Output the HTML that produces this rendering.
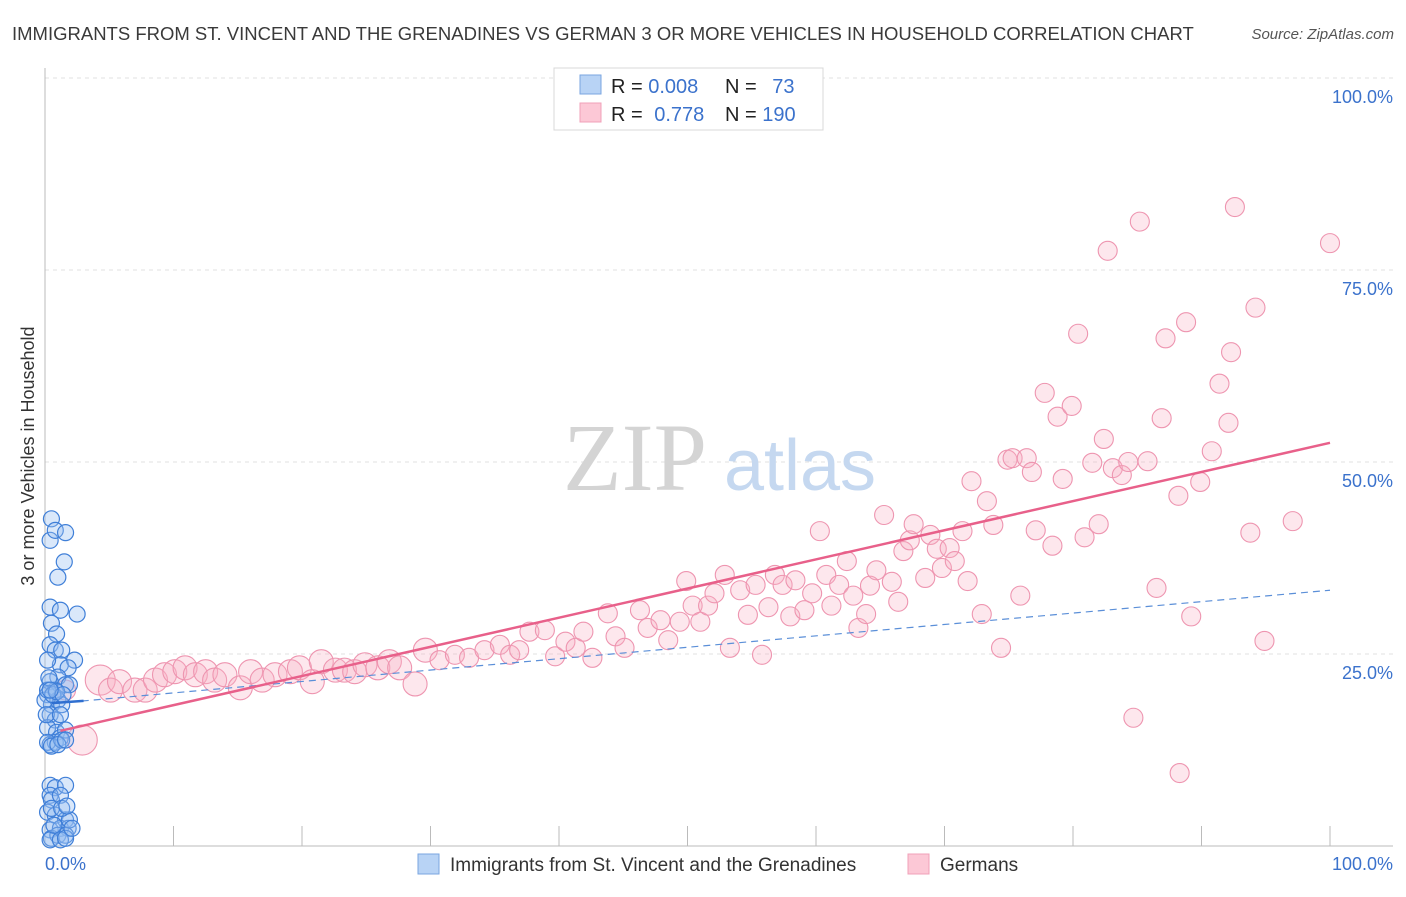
<!DOCTYPE html>
<html><head><meta charset="utf-8"><style>
body{margin:0;background:#fff;font-family:"Liberation Sans",sans-serif}
svg text{font-family:"Liberation Sans",sans-serif}
</style></head><body>
<svg width="1406" height="892" viewBox="0 0 1406 892">
<text x="12" y="40" font-size="18.5" fill="#3a3a3a">IMMIGRANTS FROM ST. VINCENT AND THE GRENADINES VS GERMAN 3 OR MORE VEHICLES IN HOUSEHOLD CORRELATION CHART</text>
<text x="1394" y="39" font-size="15" fill="#555" text-anchor="end" font-style="italic">Source: ZipAtlas.com</text>
<text transform="translate(34,456) rotate(-90)" font-size="18" fill="#333" text-anchor="middle">3 or more Vehicles in Household</text>
<g id="grid"></g>
<g>
<text x="635" y="490" font-size="96" fill="#d4d4d4" font-family="Liberation Serif" text-anchor="middle" style="font-family:'Liberation Serif',serif">ZIP</text>
<text x="800" y="490" font-size="72" fill="#c5d8f0" text-anchor="middle">atlas</text>
</g>
<g id="pts"></g>
<g id="lines"></g>
<g>
<rect x="554" y="68" width="269" height="62" fill="#fff" stroke="#d8d8d8"/>
<rect x="580" y="75" width="21" height="19" fill="#b8d3f5" stroke="#7aa6e0"/>
<rect x="580" y="103" width="21" height="19" fill="#fcc8d6" stroke="#f0a0b8"/>
<text x="611" y="93" font-size="20" fill="#222">R = <tspan fill="#3b72cc">0.008</tspan></text>
<text x="725" y="93" font-size="20" fill="#222">N = <tspan fill="#3b72cc" dx="10">73</tspan></text>
<text x="611" y="121" font-size="20" fill="#222">R = <tspan fill="#3b72cc" dx="6">0.778</tspan></text>
<text x="725" y="121" font-size="20" fill="#222">N = <tspan fill="#3b72cc">190</tspan></text>
</g>
<g>
<rect x="418" y="854" width="21" height="20" fill="#b8d3f5" stroke="#7aa6e0"/>
<text x="450" y="871" font-size="19" fill="#333">Immigrants from St. Vincent and the Grenadines</text>
<rect x="908" y="854" width="21" height="20" fill="#fcc8d6" stroke="#f0a0b8"/>
<text x="940" y="871" font-size="19" fill="#333">Germans</text>
</g>
</svg>
<script>
const yTicks=[25,50,75,100];
const yTickLabels=["25.0%","50.0%","75.0%","100.0%"];
const xTicks=[0,10,20,30,40,50,60,70,80,90,100];
const blueX=[0.5,0.4,0.8,1.6,1.0,1.5,0.4,1.2,2.5,0.5,0.9,0.4,0.8,1.3,1.2,2.3,1.8,1.0,0.4,0.8,1.6,1.9,0.2,0.5,1.0,1.3,0.4,0.8,0.2,0.9,1.2,1.6,0.4,0.8,0.2,0.5,0.4,0.8,1.6,0.4,0.5,1.2,0.2,0.8,1.6,0.4,1.2,1.8,0.5,1.0,1.6,0.4,1.9,0.0,0.2,0.6,0.3,0.1,1.3,1.0,1.6,1.2,0.9,1.4,0.2,0.5,1.3,1.7,0.7,1.2,1.6,2.1,0.4];
const blueY=[42.6,39.8,41.1,40.8,35.0,37.0,31.1,30.7,30.2,29.0,27.6,26.2,25.5,25.5,23.6,24.2,23.2,22.0,21.4,20.3,21.0,21.0,19.7,18.4,19.0,18.4,17.1,16.4,15.4,14.8,14.1,15.1,13.2,13.5,13.5,13.0,7.9,7.6,7.9,6.6,6.0,6.6,4.4,4.0,3.4,2.1,2.3,2.3,1.0,1.4,1.4,0.8,3.4,19.0,20.3,19.7,21.9,17.1,13.8,13.2,13.8,17.1,20.1,19.7,24.2,4.9,4.9,5.2,2.7,0.8,1.0,2.3,20.3];
const pinkX=[2.9,1.6,4.3,5.1,5.8,7.0,7.8,8.6,9.3,10.1,10.9,11.7,12.5,13.2,14.0,15.2,16.0,16.9,17.9,19.1,19.8,20.8,21.5,22.6,23.3,24.1,24.9,25.9,26.8,27.6,28.8,29.6,30.7,31.9,33.0,34.2,35.4,36.2,36.9,37.7,38.9,39.7,40.5,41.3,41.9,42.6,43.8,44.4,45.1,46.3,46.9,47.9,48.5,49.4,49.9,50.4,51.0,51.6,52.1,52.9,53.3,54.1,54.7,55.3,55.8,56.3,56.8,57.4,58.0,58.4,59.1,59.7,60.3,60.8,61.2,61.8,62.4,62.9,63.3,63.9,64.2,64.7,65.3,65.9,66.4,66.8,67.3,67.6,68.5,68.9,69.4,69.8,70.4,70.8,71.4,71.8,72.1,72.9,73.3,73.8,74.4,74.9,75.3,75.9,76.4,76.8,77.1,77.8,78.4,78.8,79.2,79.9,80.4,80.9,81.5,82.0,82.4,82.7,83.1,83.8,84.3,84.7,85.2,85.8,86.5,86.9,87.2,88.2,88.3,88.8,89.2,89.9,90.8,91.4,92.1,92.3,92.6,93.8,94.2,94.9,97.1,100.0];
const pinkY=[13.8,20.3,21.6,20.3,21.4,20.3,20.3,21.6,22.3,22.7,23.2,22.3,22.7,21.6,22.3,20.6,22.7,21.6,22.3,22.7,23.2,21.4,24.0,22.9,22.9,22.7,23.6,23.2,24.0,23.2,21.1,25.5,24.2,24.9,24.5,25.5,26.2,24.9,25.5,27.9,28.1,24.7,26.6,25.8,27.9,24.5,30.3,27.3,25.8,30.7,28.4,29.4,26.8,29.2,34.5,31.3,29.2,31.3,32.9,35.3,25.8,33.3,30.1,34.0,24.9,31.1,35.3,34.0,29.9,34.6,30.7,32.9,41.0,35.3,31.3,34.0,37.1,32.6,28.4,30.2,33.9,35.9,43.1,34.4,31.8,38.4,39.8,41.9,34.9,40.5,38.7,36.2,38.8,37.1,41.0,34.5,47.5,30.2,44.9,41.8,25.8,50.3,50.5,32.6,50.5,48.7,41.1,59.0,39.1,55.9,47.8,57.3,66.7,40.2,49.9,41.9,53.0,77.5,49.2,48.3,50.0,16.7,81.3,50.1,33.6,55.7,66.1,45.6,9.5,68.2,29.9,47.4,51.4,60.2,55.1,64.3,83.2,40.8,70.1,26.7,42.3,78.5];
const pinkTrend=[15.0,52.5];
const blueTrend=[18.6,33.3];
const NS="http://www.w3.org/2000/svg";
const X=v=>45+v*12.85, Y=v=>846-v*7.68;
function mk(t,a,p){const e=document.createElementNS(NS,t);for(const k in a)e.setAttribute(k,a[k]);p.appendChild(e);return e;}
const grid=document.getElementById('grid'),pts=document.getElementById('pts'),lines=document.getElementById('lines');
yTicks.forEach((v,i)=>{
 const l=mk('line',{x1:45,x2:1393,y1:Y(v),y2:Y(v),stroke:'#e0e0e0','stroke-dasharray':'4,4'},grid);
 
 
 const t=mk('text',{x:1393,y:Y(v)+25,'font-size':18,fill:'#3b72cc','text-anchor':'end'},grid);
 t.textContent=yTickLabels[i];
 
 
});
const ax=mk('path',{d:'M45,68V846H1393',stroke:'#bbb',fill:'none'},grid);


xTicks.forEach(v=>{if(v===0)return;const l=mk('line',{x1:X(v),x2:X(v),y1:826,y2:846,stroke:'#bbb'},grid);
 
 });
const x0=mk('text',{x:45,y:870,'font-size':18,fill:'#3b72cc'},grid);x0.textContent='0.0%';


const x1=mk('text',{x:1393,y:870,'font-size':18,fill:'#3b72cc','text-anchor':'end'},grid);x1.textContent='100.0%';


pinkX.forEach((v,i)=>{const r=v<2?10:(v<5?15:(v<30?12:9.5));
 const c=mk('circle',{cx:X(v),cy:Y(pinkY[i]),r:r,fill:'rgba(248,175,196,0.3)',stroke:'#ee95b0','stroke-width':1.1},pts);
 
 });
blueX.forEach((v,i)=>{const c=mk('circle',{cx:X(v),cy:Y(blueY[i]),r:8,fill:'rgba(150,190,242,0.35)',stroke:'#3f7fd8','stroke-width':1.2},pts);
 
 });
const bl=mk('line',{x1:X(1),y1:Y(blueTrend[0]),x2:X(100),y2:Y(blueTrend[1]),stroke:'#5b8fd8','stroke-width':1.2,'stroke-dasharray':'7,5'},lines);


const bs=mk('line',{x1:X(0.5),y1:Y(blueTrend[0]),x2:X(3),y2:Y(blueTrend[0]+0.3),stroke:'#2f6fd0','stroke-width':2.5},lines);


const pl=mk('line',{x1:X(1.2),y1:Y(pinkTrend[0]),x2:X(100),y2:Y(pinkTrend[1]),stroke:'#e8608a','stroke-width':2.5},lines);


</script>
</body></html>
